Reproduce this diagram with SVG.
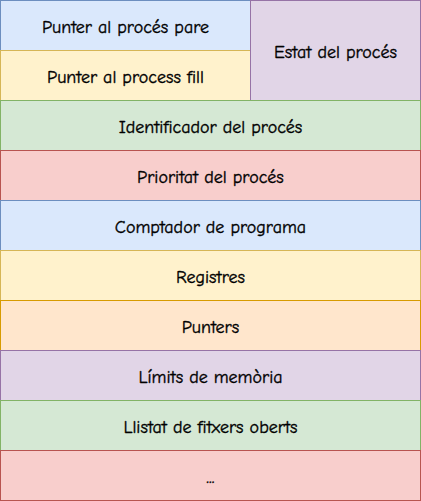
<svg xmlns="http://www.w3.org/2000/svg" width="421" height="501" viewBox="0 0 421 501">
<style>
text{font-family:"Comic Sans MS","Comic Neue","Liberation Sans",sans-serif;font-size:18px;fill:#000;stroke:#000;stroke-width:0.35;text-anchor:middle;dominant-baseline:central}
.blue{fill:#dae8fc;stroke:#6c8ebf}
.yellow{fill:#fff2cc;stroke:#d6b656}
.green{fill:#d5e8d4;stroke:#82b366}
.red{fill:#f8cecc;stroke:#b85450}
.purple{fill:#e1d5e7;stroke:#9673a6}
.orange{fill:#ffe6cc;stroke:#d79b00}
</style>
<rect width="421" height="501" fill="#ffffff"/>
<g id="pare"><rect class="blue" x="0.5" y="0.5" width="250" height="50"/><text x="125.5" y="27">Punter al procés pare</text></g>
<g id="fill"><rect class="yellow" x="0.5" y="50.5" width="250" height="50"/><text x="125.5" y="77">Punter al process fill</text></g>
<g id="estat"><rect class="purple" x="250.5" y="0.5" width="170" height="100"/><text x="335.5" y="52">Estat del procés</text></g>
<g id="identificador"><rect class="green" x="0.5" y="100.5" width="420" height="50"/><text x="210.5" y="127">Identificador del procés</text></g>
<g id="prioritat"><rect class="red" x="0.5" y="150.5" width="420" height="50"/><text x="210.5" y="177">Prioritat del procés</text></g>
<g id="comptador"><rect class="blue" x="0.5" y="200.5" width="420" height="50"/><text x="210.5" y="227">Comptador de programa</text></g>
<g id="registres"><rect class="yellow" x="0.5" y="250.5" width="420" height="50"/><text x="210.5" y="277">Registres</text></g>
<g id="punters"><rect class="orange" x="0.5" y="300.5" width="420" height="50"/><text x="210.5" y="327">Punters</text></g>
<g id="limits"><rect class="purple" x="0.5" y="350.5" width="420" height="50"/><text x="210.5" y="377">Límits de memòria</text></g>
<g id="fitxers"><rect class="green" x="0.5" y="400.5" width="420" height="50"/><text x="210.5" y="427">Llistat de fitxers oberts</text></g>
<g id="mes"><rect class="red" x="0.5" y="450.5" width="420" height="50"/><text x="210.5" y="477">...</text></g>
<g id="connectors"></g>
</svg>
